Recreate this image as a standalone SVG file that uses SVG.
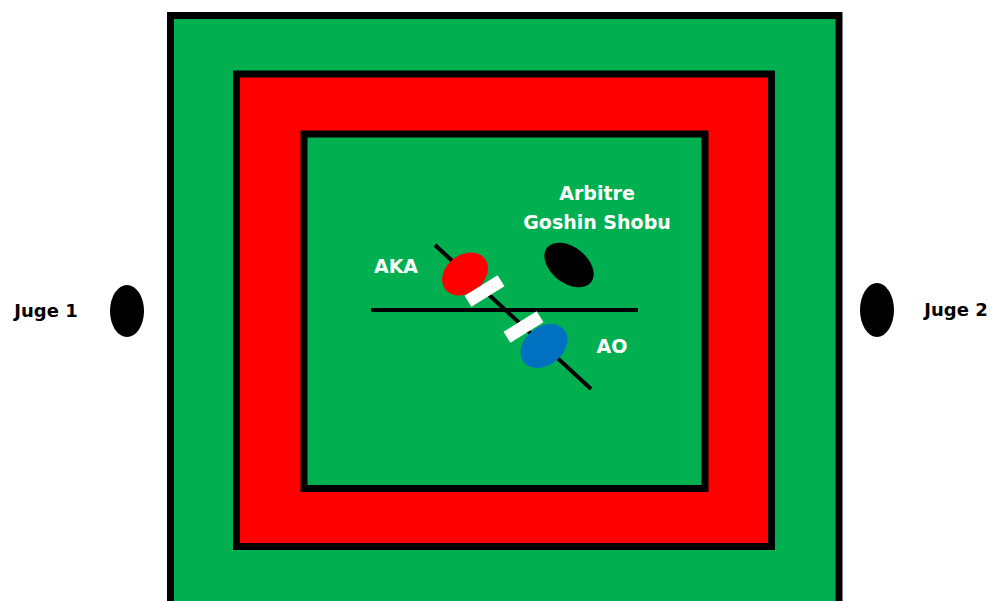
<svg xmlns="http://www.w3.org/2000/svg" width="995" height="601" viewBox="0 0 995 601">
<style>
.frame{stroke:#000;stroke-width:7}
.lbl{font-family:"DejaVu Sans","Liberation Sans",sans-serif;font-size:19px;font-weight:bold;fill:#fff}
.jlbl{font-family:"DejaVu Sans","Liberation Sans",sans-serif;font-size:18px;font-weight:bold;fill:#000}
.line{stroke:#000;stroke-width:4;fill:none}
</style>
<rect width="995" height="601" fill="#fff"/>
<g id="tatami">
<rect class="frame" x="170.5" y="15.5" width="668.5" height="620" fill="#00B050"/>
<rect class="frame" x="236.5" y="74" width="535" height="472.5" fill="#FF0000"/>
<rect class="frame" x="304" y="134" width="401" height="354.5" fill="#00B050"/>
</g>
<g id="connectors">
<line class="line" x1="371" y1="310" x2="638" y2="310"/>
<line class="line" x1="435" y1="245" x2="591" y2="389"/>
</g>
<g id="aka">
<ellipse cx="465" cy="274" rx="25" ry="19" transform="rotate(-38 465 274)" fill="#FF0000"/>
<rect x="465" y="284.5" width="39" height="13" transform="rotate(-32 484.5 291)" fill="#fff"/>
<text class="lbl" x="396" y="273" text-anchor="middle">AKA</text>
</g>
<g id="ao">
<rect x="504" y="320.5" width="39" height="13" transform="rotate(-32 523.5 327)" fill="#fff"/>
<ellipse cx="544" cy="346" rx="26" ry="19" transform="rotate(-38 544 346)" fill="#0070C0"/>
<text class="lbl" x="612" y="353" text-anchor="middle">AO</text>
</g>
<g id="arbitre">
<ellipse cx="569" cy="265" rx="28" ry="18" transform="rotate(38 569 265)" fill="#000"/>
<text class="lbl" x="597" y="200" text-anchor="middle">Arbitre</text>
<text class="lbl" x="597" y="229" text-anchor="middle">Goshin Shobu</text>
</g>
<g id="juge1">
<ellipse cx="127" cy="311" rx="17" ry="26" fill="#000"/>
<text class="jlbl" x="46" y="317" text-anchor="middle">Juge 1</text>
</g>
<g id="juge2">
<ellipse cx="877" cy="310" rx="17" ry="27" fill="#000"/>
<text class="jlbl" x="956" y="316" text-anchor="middle">Juge 2</text>
</g>
</svg>
